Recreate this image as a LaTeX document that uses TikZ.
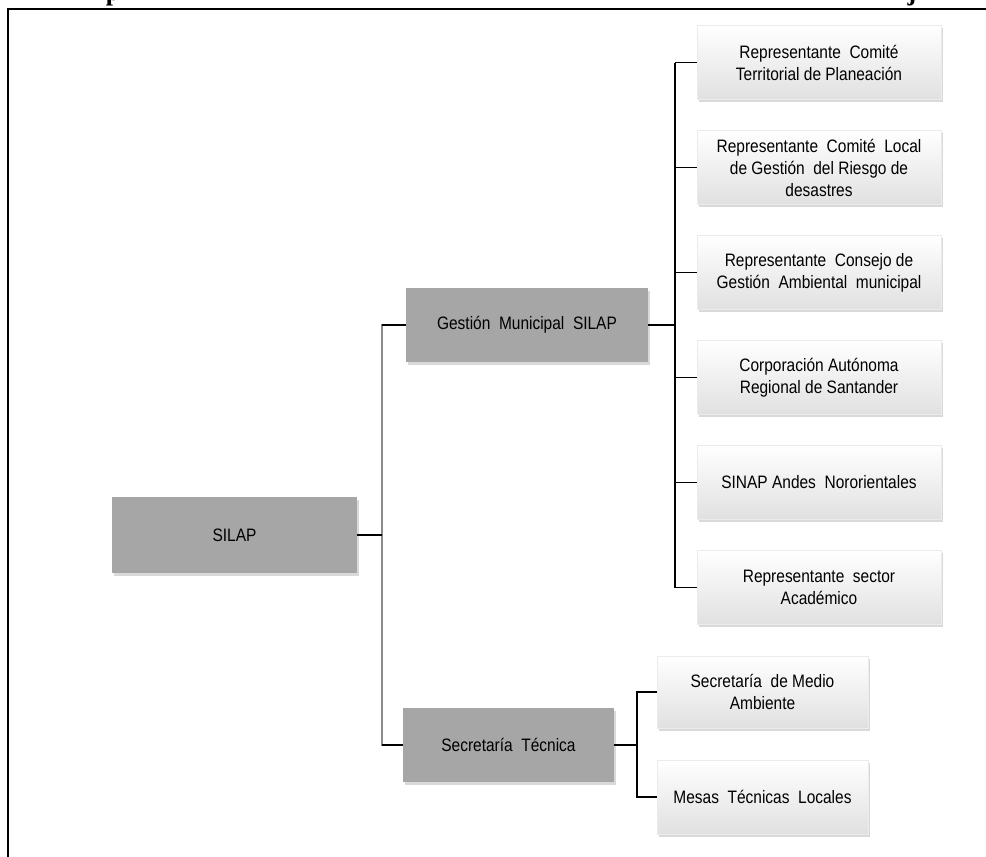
\documentclass[tikz,border=0pt]{standalone}
\usepackage{fontspec}
\setmainfont{Liberation Sans}[FakeStretch=0.86]
\newfontfamily\capfont{Liberation Serif}
\usetikzlibrary{shadows}
\definecolor{boxgray}{HTML}{A6A6A6}
\definecolor{trunkgray}{HTML}{8A8A8A}
\tikzset{
  softshadow/.style={drop shadow={shadow xshift=1.5pt,shadow yshift=-2.5pt,opacity=0.3}},
  darkbox/.style={rectangle,fill=boxgray,inner sep=0pt,align=center,softshadow},
  lightbox/.style={rectangle,draw=black!8,top color=white,bottom color=black!12,
    inner sep=0pt,align=center,minimum width=244pt,minimum height=74pt,softshadow},
  link/.style={draw=black,line width=1.2pt},
}
\begin{document}
\begin{tikzpicture}[x=1pt,y=-1pt,font=\fontsize{18}{22}\selectfont]
        \useasboundingbox (0,0) rectangle (986,857);

        \draw[line width=2pt] (8,857) -- (8,9) -- (986,9);
        \node[font=\capfont\bfseries\fontsize{26}{26}\selectfont,anchor=base,inner sep=0pt] (capp) at (113,0) {p};
        \node[font=\capfont\bfseries\fontsize{26}{26}\selectfont,anchor=base,inner sep=0pt] (capj) at (912,0) {j};

        \begin{scope}[every node/.style={darkbox}]
          \node[minimum width=245pt,minimum height=76pt] (silap) at (234.5,535) {SILAP};
          \node[minimum width=242pt,minimum height=74pt] (gest)  at (527,325)  {Gestión\ \ Municipal\ \ SILAP};
          \node[minimum width=211pt,minimum height=74pt] (secr)  at (508.5,745) {Secretaría\ \ Técnica};
        \end{scope}

        \begin{scope}[every node/.style={lightbox}]
          \node (r1) at (819,62.5)  {Representante\ \ Comité\\Territorial\ de\ Planeación};
          \node (r2) at (819,167.5) {Representante\ \ Comité\ \ Local\\de\ Gestión\ \ del\ Riesgo\ de\\desastres};
          \node (r3) at (819,272.5) {Representante\ \ Consejo\ de\\Gestión\ \ Ambiental\ \ municipal};
          \node (r4) at (819,377.5) {Corporación Autónoma\\Regional\ de\ Santander};
          \node (r5) at (819,482.5) {SINAP Andes\ \ Nororientales};
          \node (r6) at (819,587.5) {Representante\ \ sector\\Académico};
          \node[minimum width=211pt,minimum height=72pt] (s1) at (762.5,692) {Secretaría\ \ de Medio\\Ambiente};
          \node[minimum width=211pt,minimum height=74pt] (s2) at (762.5,797) {Mesas\ \ Técnicas\ \ Locales};
        \end{scope}

        \coordinate (t0) at (382,535);
        \coordinate (tg) at (675,325);
        \coordinate (ts) at (637,745);

        \draw[trunkgray,line width=2pt] (gest.west) -| (t0) |- (secr.west);
        \draw[link] (gest.west) -- (gest.west -| t0);
        \draw[link] (secr.west) -- (secr.west -| t0);
        \draw[link] (silap) -- (t0);

        \draw[link] (gest) -- (tg);
        \draw[black,line width=2.6pt] (r1.west -| tg) -- (r6.west -| tg);
        \foreach \n in {r1,r2,r3,r4,r5,r6}
          \draw[link] (\n.west -| tg) -- (\n.west);

        \draw[link] (secr) -- (ts);
        \draw[link] (s1.west) -| (ts) |- (s2.west);
\end{tikzpicture}
\end{document}
